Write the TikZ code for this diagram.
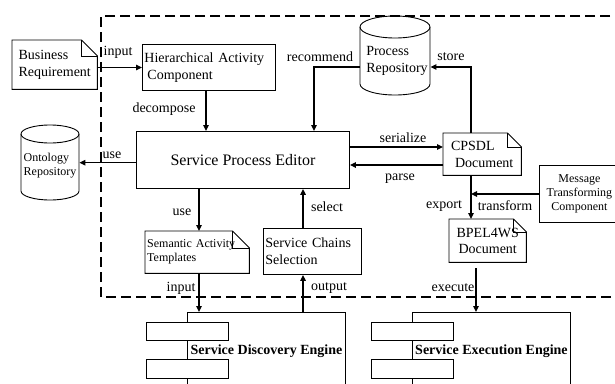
\documentclass[tikz,border=0pt]{standalone}
\usepackage{fontspec}
\setmainfont{Liberation Serif}
\usetikzlibrary{arrows.meta,calc}
\newcommand\mydoc[2]{%
  \draw[line width=0.9pt] (#1.south west) -- (#1.south east) -- ($(#1.north east)+(0,#2)$) -- ($(#1.north east)+(-#2,0)$) -- (#1.north west) -- cycle;
  \draw[line width=0.9pt] ($(#1.north east)+(-#2,0)$) |- ($(#1.north east)+(0,#2)$);}
\begin{document}
\begin{tikzpicture}[x=1pt,y=-1pt,
  ln/.style={line width=0.9pt},
  box/.style={draw, ln, inner xsep=2pt, inner ysep=0pt, anchor=north west, font=\fontsize{14}{16.5}\selectfont},
  docn/.style={inner xsep=2pt, inner ysep=0pt, anchor=north west, font=\fontsize{14}{16.5}\selectfont},
  small/.style={font=\fontsize{12}{14}\selectfont},
  hold/.style={inner sep=0pt, anchor=north west},
  arr/.style={line width=1.3pt, -{Triangle[length=6pt,width=5.5pt]}},
  lbl/.style={inner sep=0pt, font=\fontsize{14}{16}\selectfont},
  eng/.style={draw, ln, anchor=north west, inner sep=0pt, minimum width=158pt, minimum height=78pt, font=\bfseries\fontsize{14}{16}\selectfont},
  port/.style={draw, ln, fill=white, anchor=north west, inner sep=0pt, minimum width=82pt},
]
\useasboundingbox (0,0) rectangle (615,383);
\clip (0,0) rectangle (615,383);

% dashed boundary
\draw[line width=2.4pt, dash pattern=on 10pt off 5pt] (640,16) -- (101,16) -- (101,297) -- (640,297);

% documents
\node[docn, minimum width=85pt, minimum height=49pt, align=left] (br) at (12,40) {Business\\Requirement};
\mydoc{br}{16}
\node[docn, minimum width=78pt, minimum height=42pt, align=left] (cpsdl) at (443,133) {CPSDL\\\hspace*{4pt}Document};
\mydoc{cpsdl}{14}
\node[docn, minimum width=77pt, minimum height=43pt, align=center] (bpel) at (449,219) {BPEL4WS\\Document};
\mydoc{bpel}{13}
\node[docn, small, minimum width=104pt, minimum height=42pt, text width=100pt, align=left] (sat) at (145,231) {Semantic Activity\\Templates};
\mydoc{sat}{17}

% boxes
\node[box, minimum width=133pt, minimum height=46pt, text width=129pt, align=left] (hac) at (142,44) {Hierarchical Activity\\\hspace*{3pt}Component};
\node[box, minimum width=213pt, minimum height=57pt, font=\fontsize{16}{19}\selectfont] (spe) at (136,131) {Service Process Editor};
\node[box, minimum width=98pt, minimum height=46pt, text width=94pt, align=left] (scs) at (263,228) {Service Chains\\Selection};
\node[box, small, minimum width=80pt, minimum height=57pt, align=center] (mtc) at (539,165) {Message\\Transforming\\Component};

% cylinders
\node[hold, minimum width=58pt, minimum height=75pt] (onto) at (21,125) {};
\draw[ln] (21,134) -- (21,191) arc[start angle=180, end angle=360, x radius=29pt, y radius=9pt] -- (79,134);
\draw[ln] (50,134) ellipse[x radius=29pt, y radius=9pt];
\node[small, inner sep=0pt, align=left] at (50,166) {Ontology\\Repository};

\node[hold, minimum width=70pt, minimum height=79pt] (pr) at (360,16) {};
\draw[ln] (360,27) -- (360,84) arc[start angle=180, end angle=360, x radius=35pt, y radius=11pt] -- (430,27);
\draw[ln] (395,27) ellipse[x radius=35pt, y radius=11pt];
\node[lbl, font=\fontsize{14}{16.5}\selectfont, align=left] at (397,61) {Process\\Repository};

% engines
\node[eng] (sde) at (187,312) {Service Discovery Engine};
\node[port, minimum height=18pt] (sde1) at (146,322) {};
\node[port, minimum height=19pt] (sde2) at (146,359) {};
\node[eng] (see) at (412,312) {Service Execution Engine};
\node[port, minimum height=18pt] (see1) at (371,322) {};
\node[port, minimum height=19pt] (see2) at (371,359) {};

% connectors
\draw[arr] (br.east |- hac.west) -- (hac.west);
\coordinate (dc) at (206,0);
\draw[arr] (dc |- hac.south) -- (dc |- spe.north);
\draw[arr] (spe.west |- onto.east) -- (onto.east);
\coordinate (rc) at (314,67);
\draw[arr] (pr.west |- rc) -- (rc) -- (rc |- spe.north);
\coordinate (sc) at (471,67);
\draw[arr] (sc |- cpsdl.north) -- (sc) -- (pr.east |- sc);
\coordinate (ser) at (0,147);
\draw[arr] (spe.east |- ser) -- (cpsdl.west |- ser);
\coordinate (par) at (0,165);
\draw[arr] (cpsdl.west |- par) -- (spe.east |- par);
\coordinate (ex) at (471,0);
\draw[arr] (ex |- cpsdl.south) -- (ex |- bpel.north);
\draw[arr] (mtc.west) -- (mtc.west -| ex);
\coordinate (xc) at (476,0);
\draw[arr, shorten <=6pt] (xc |- bpel.south) -- (xc |- see.north);
\coordinate (uc) at (199,0);
\draw[arr] (uc |- spe.south) -- (uc |- sat.north);
\draw[arr] (uc |- sat.south) -- (uc |- sde.north);
\coordinate (sl) at (303,0);
\draw[arr] (sl |- scs.north) -- (sl |- spe.south);
\draw[arr] (sl |- sde.north) -- (sl |- scs.south);

% labels
\node[lbl] at (118,52) {input};
\node[lbl] at (164,109) {decompose};
\node[lbl] at (112,155) {use};
\node[lbl] at (320,57) {recommend};
\node[lbl] at (451,57) {store};
\node[lbl] at (403,138) {serialize};
\node[lbl] at (400,179) {parse};
\node[lbl] at (182,212) {use};
\node[lbl] at (327,207) {select};
\node[lbl] at (444,206) {export};
\node[lbl] at (505,206) {transform};
\node[lbl] at (181,288) {input};
\node[lbl] at (329,288) {output};
\node[lbl] at (453,288) {execute};
\end{tikzpicture}
\end{document}
